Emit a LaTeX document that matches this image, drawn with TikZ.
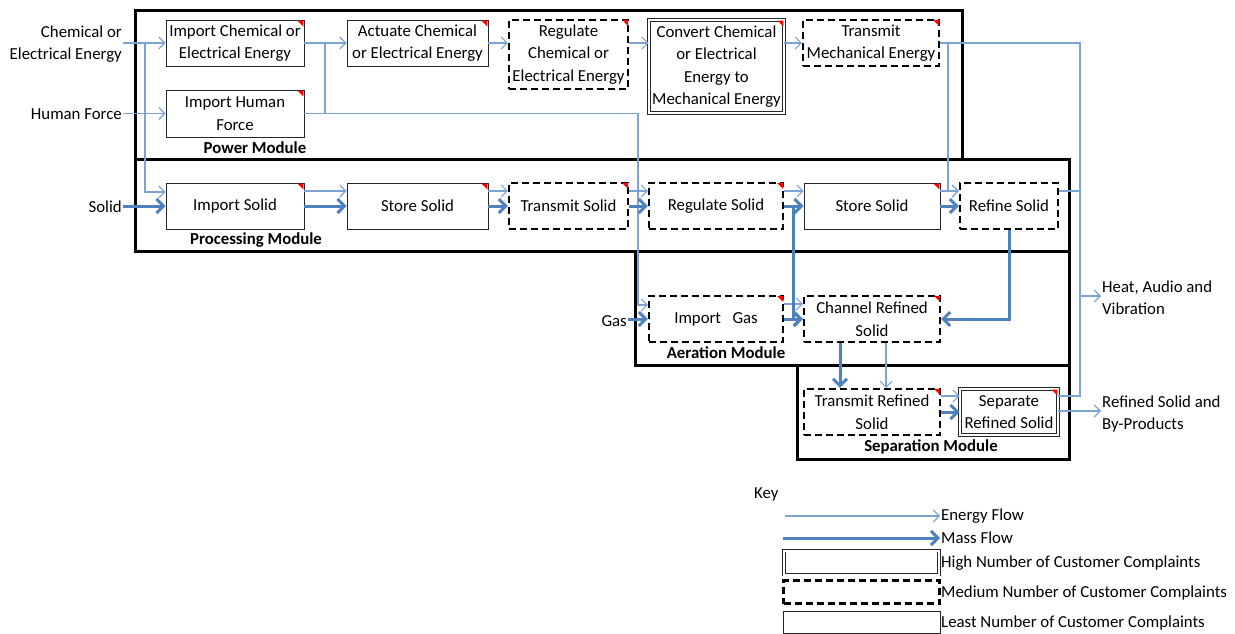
\documentclass[tikz,border=0pt]{standalone}
\usepackage{fontspec}
\setmainfont{Carlito}
\usetikzlibrary{arrows.meta,calc}
\definecolor{ecol}{HTML}{7DA3D5}
\definecolor{mcol}{HTML}{4F81BD}
\begin{document}
\begin{tikzpicture}[x=1pt,y=-1pt,
 lbl/.style={font=\fontsize{16.8}{22.5}\selectfont, inner sep=1pt, align=center, text=black},
 fbox/.style={lbl, draw=black!85, line width=0.9pt, inner sep=0pt},
 mbox/.style={fbox, draw=black, line width=2.2pt, dash pattern=on 7pt off 4pt},
 dbox/.style={fbox, double=white, double distance=2pt, line width=0.8pt},
 modbox/.style={draw=black, line width=3pt},
 modlbl/.style={font=\bfseries\fontsize{16.8}{20}\selectfont, inner sep=0pt},
 energy/.style={draw=ecol, line width=1.1pt},
 earrow/.style={energy, -{Straight Barb[length=6pt,width=12pt]}},
 mass/.style={draw=mcol, line width=3pt},
 marrow/.style={mass, -{Straight Barb[length=7pt,width=14pt]}},
]
\useasboundingbox (0,0) rectangle (1235,634);

% modules
\draw[modbox] (135,11) rectangle (962,159);
\draw[modbox] (135,159) rectangle (1069,251);
\draw[modbox] (635,251) rectangle (1069,365);
\draw[modbox] (797,365) rectangle (1069,459);
\node[modlbl] (pml) at (255,148) {Power Module};
\node[modlbl] (prl) at (256,240) {Processing Module};
\node[modlbl] (aml) at (726,353) {Aeration Module};
\node[modlbl] (sml) at (931,447) {Separation Module};

% power row
\node[fbox, minimum width=138, minimum height=46] (ich) at (235,43) {Import Chemical or\\Electrical Energy};
\node[fbox, minimum width=141, minimum height=46] (act) at (417.5,43) {Actuate Chemical\\or Electrical Energy};
\node[mbox, minimum width=119, minimum height=69] (rce) at (568.5,54.5) {Regulate\\Chemical or\\Electrical Energy};
\node[dbox, minimum width=135, minimum height=93] (conv) at (716.5,66.5) {Convert Chemical\\or Electrical\\Energy to\\Mechanical Energy};
\node[mbox, minimum width=136, minimum height=46] (tme) at (871,43) {Transmit\\Mechanical Energy};
\node[fbox, minimum width=138, minimum height=47] (ihf) at (235,113.5) {Import Human\\Force};

% processing row
\node[fbox, minimum width=138, minimum height=46] (is) at (235,206) {Import Solid};
\node[fbox, minimum width=141, minimum height=46] (ss1) at (417.5,206) {Store Solid};
\node[mbox, minimum width=119, minimum height=46] (ts) at (568.5,206) {Transmit Solid};
\node[mbox, minimum width=134, minimum height=46] (rs) at (716,206) {Regulate Solid};
\node[fbox, minimum width=136, minimum height=46] (ss2) at (872,206) {Store Solid};
\node[mbox, minimum width=98, minimum height=46] (rfs) at (1009,206) {Refine Solid};

% aeration row
\node[mbox, minimum width=134, minimum height=46] (ig) at (716,319) {Import\ \ \ Gas};
\node[mbox, minimum width=136, minimum height=46] (crs) at (872,319) {Channel Refined\\Solid};

% separation row
\node[mbox, minimum width=136, minimum height=46] (trs) at (872,412) {Transmit Refined\\Solid};
\node[dbox, minimum width=98, minimum height=46] (sep) at (1009,412) {Separate\\Refined Solid};

% red corners
\foreach \n in {ich,act,rce,conv,tme,ihf,is,ss1,ts,rs,ss2,ig,crs,trs,sep}
  \fill[red] ($(\n.north east)+(-1,1)$) -- ++(-6,0) -- ++(6,6) -- cycle;

% outside labels
\node[lbl, anchor=east, align=right] (chem) at (123,44) {Chemical or\\Electrical Energy};
\node[lbl, anchor=east] (hf) at (123,114) {Human Force};
\node[lbl, anchor=east] (sol) at (123,207) {Solid};
\node[lbl, anchor=east] (gas) at (628,321) {Gas};
\node[lbl, anchor=west, align=left] (heat) at (1101,297.5) {Heat, Audio and\\Vibration};
\node[lbl, anchor=west, align=left] (refd) at (1101,414) {Refined Solid and\\By-Products};

% junction coordinates
\coordinate (j1) at (145,43);
\coordinate (j2) at (325,43);
\coordinate (j3) at (638,113.5);
\coordinate (j4) at (948,43);
\coordinate (jr) at (1080,43);
\coordinate (jh) at (1080,296);
\coordinate (jm) at (793,206);
\coordinate (mx) at (840,0);
\coordinate (ex) at (886,0);

% energy flows
\draw[earrow] (chem.east |- ich.west) -- (ich.west);
\draw[earrow] (j1) |- ($(is.west)+(0,-14)$);
\draw[earrow] (hf.east |- ihf.west) -- (ihf.west);
\draw[earrow] (ich.east) -- (act.west);
\draw[energy] (j2) -- (j2 |- ihf.east);
\draw[earrow] (ihf.east) -- (j3) |- ($(ig.west)+(0,-14)$);
\draw[earrow] (act.east) -- (rce.west |- act.east);
\draw[earrow] (rce.east |- act.east) -- (conv.west |- act.east);
\draw[earrow] (conv.east |- act.east) -- (tme.west);
\draw[energy] (tme.east) -- (jr) |- ($(sep.east)+(0,-16)$);
\draw[earrow] (j4) |- ($(rfs.west)+(0,-15)$);
\draw[earrow] ($(is.east)+(0,-15)$) -- ($(ss1.west)+(0,-15)$);
\draw[earrow] ($(ss1.east)+(0,-15)$) -- ($(ts.west)+(0,-15)$);
\draw[earrow] ($(ts.east)+(0,-15)$) -- ($(rs.west)+(0,-15)$);
\draw[earrow] ($(rs.east)+(0,-15)$) -- ($(ss2.west)+(0,-15)$);
\draw[earrow] ($(ss2.east)+(0,-15)$) -- ($(rfs.west)+(0,-15)$);
\draw[energy] ($(rfs.east)+(0,-15)$) -- ($(rfs.east -| jr)+(0,-15)$);
\draw[earrow] ($(ig.east)+(0,-15)$) -- ($(crs.west)+(0,-15)$);
\draw[earrow] (crs.south -| ex) -- (trs.north -| ex);
\draw[earrow] ($(trs.east)+(0,-16)$) -- ($(sep.west)+(0,-16)$);
\draw[earrow] (jh) -- (jh -| heat.west);
\draw[earrow] ($(sep.east)+(0,-1)$) -- ($(sep.east -| refd.west)+(0,-1)$);

% mass flows
\draw[marrow] (sol.east |- is.west) -- (is.west);
\draw[marrow] (is.east) -- (ss1.west);
\draw[marrow] (ss1.east) -- (ts.west);
\draw[marrow] (ts.east) -- (rs.west);
\draw[marrow] (rs.east) -- (ss2.west);
\draw[marrow] (ss2.east) -- (rfs.west);
\draw[marrow] (jm) |- (crs.west);
\draw[marrow] (ig.east) -- (crs.west);
\draw[marrow] (rfs.south) |- (crs.east);
\draw[marrow] (gas.east |- ig.west) -- (ig.west);
\draw[marrow] (crs.south -| mx) -- (trs.north -| mx);
\draw[marrow] (trs.east) -- (sep.west);

% key
\node[lbl, anchor=west] (key) at (753,494) {Key};
\coordinate (ke) at (785,516);
\coordinate (km) at (783,538);
\node[lbl, anchor=west] (lE) at (940,516) {Energy Flow};
\node[lbl, anchor=west] (lM) at (940,538) {Mass Flow};
\draw[earrow] (ke) -- (lE.west);
\draw[marrow] (km) -- (lM.west);
\node[dbox, minimum width=155, minimum height=24] (kH) at (861.5,562.5) {};
\node[mbox, minimum width=156, minimum height=23] (kM) at (861.5,592) {};
\node[fbox, minimum width=157, minimum height=22] (kL) at (861.5,622) {};
\node[lbl, anchor=west] (lH) at (940,563) {High Number of Customer Complaints};
\node[lbl, anchor=west] (lMd) at (940,593) {Medium Number of Customer Complaints};
\node[lbl, anchor=west] (lL) at (940,623) {Least Number of Customer Complaints};
\end{tikzpicture}
\end{document}
